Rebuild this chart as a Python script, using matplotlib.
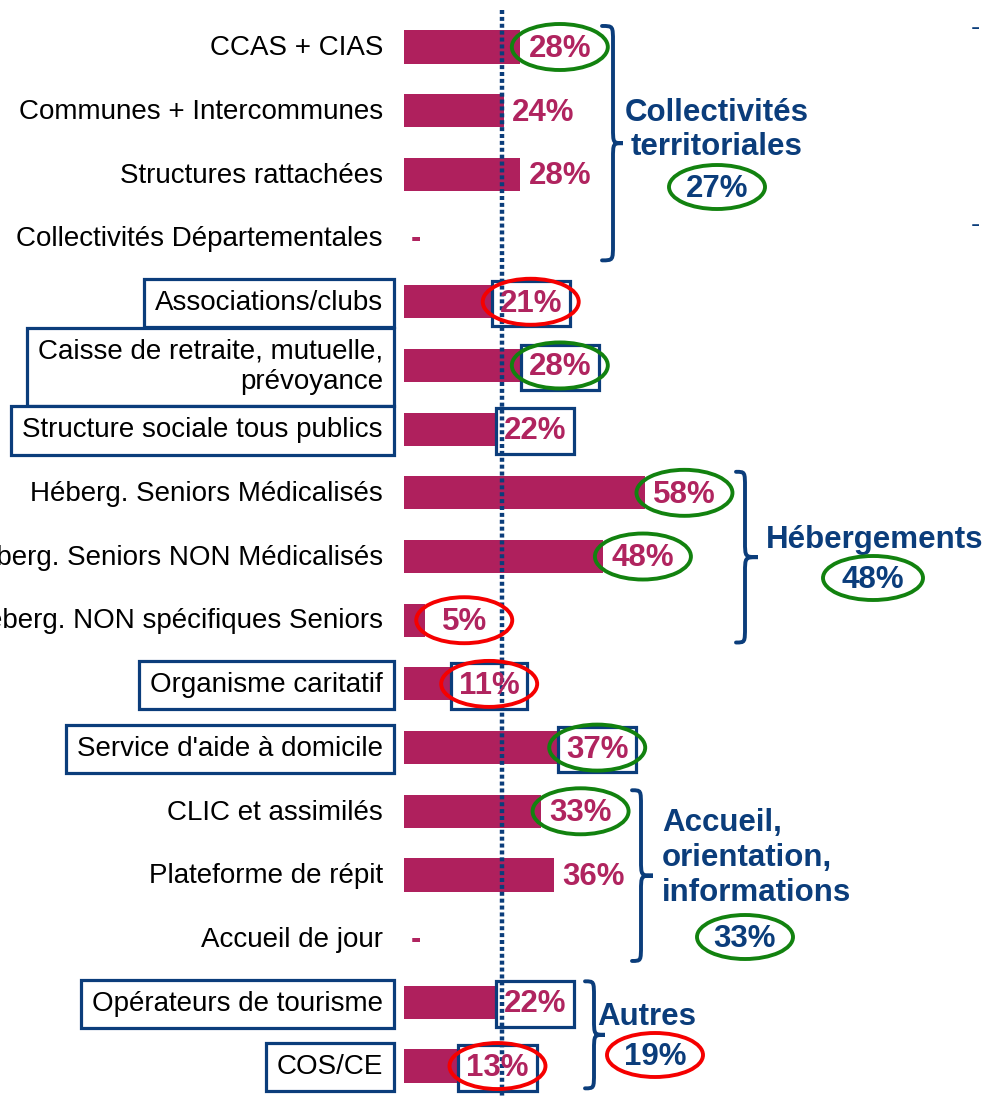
import matplotlib
matplotlib.use("Agg")
import matplotlib.pyplot as plt
from matplotlib.patches import Ellipse, PathPatch
from matplotlib.path import Path

plt.rcParams['font.family'] = ['Liberation Sans', 'DejaVu Sans']

# données
labels = ["CCAS + CIAS", "Communes + Intercommunes", "Structures rattachées",
          "Collectivités Départementales", "Associations/clubs",
          "Caisse de retraite, mutuelle,\nprévoyance", "Structure sociale tous publics",
          "Héberg. Seniors Médicalisés", "Héberg. Seniors NON Médicalisés",
          "Héberg. NON spécifiques Seniors", "Organisme caritatif",
          "Service d'aide à domicile", "CLIC et assimilés", "Plateforme de répit",
          "Accueil de jour", "Opérateurs de tourisme", "COS/CE"]
values = [28, 24, 28, None, 21, 28, 22, 58, 48, 5, 11, 37, 33, 36, None, 22, 13]
boxed = [False, False, False, False, True, True, True, False, False, False,
         True, True, False, False, False, True, True]
rings = ['green', None, None, None, 'red', 'green', None, 'green', 'green', 'red',
         'red', 'green', 'green', None, None, None, 'red']
average = 23.7

group_names = ["Collectivités\nterritoriales", "Hébergements",
               "Accueil,\norientation,\ninformations", "Autres"]
group_values = [27, 48, 33, 19]
group_rings = ['green', 'green', 'green', 'red']
group_rows = [(0, 3), (7, 9), (12, 14), (15, 16)]

BAR = '#AF205D'
VAL = '#B0245F'
NAVY = '#0B3D7B'
RING = {'green': '#12820F', 'red': '#F50000'}

W, H = 986, 1096
X0, XS = 404, 4.155      # pixel de l'origine et pixels par %
Y0, YS = 47, 63.69       # pixel de la 1re ligne et pixels par ligne


def px_x(p):
    return (p - X0) / XS


def px_y(p):
    return (p - Y0) / YS


fig = plt.figure(figsize=(W / 100, H / 100), dpi=100)
ax = fig.add_axes([0, 0, 1, 1])
ax.set_xlim(px_x(0), px_x(W))
ax.set_ylim(px_y(H), px_y(0))
ax.axis('off')

rows = list(range(len(labels)))
bar_vals = [v if v is not None else 0 for v in values]
ax.barh(rows, bar_vals, height=0.52, color=BAR, zorder=2)

# ligne moyenne pointillée
ax.plot([average, average], [px_y(10), px_y(H)], color=NAVY, lw=3.2,
        linestyle=(0, (0.9, 0.65)), dash_capstyle='butt', zorder=3)

for i, (lab, v) in enumerate(zip(labels, values)):
    kw = {}
    if boxed[i]:
        kw['bbox'] = dict(boxstyle='square,pad=0.4', fc='white', ec=NAVY, lw=2.3)
    ax.text(px_x(383), i + 0.02, lab, ha='right', va='center', fontsize=20,
            color='black', zorder=4, **kw)
    if v is None:
        ax.text(px_x(416), i + 0.02, '-', ha='center', va='center', fontsize=22,
                fontweight='bold', color=VAL, zorder=5)
        continue
    cx = v + 9.5
    kw = {}
    if boxed[i]:
        kw['bbox'] = dict(boxstyle='square,pad=0.25', fc='none', ec=NAVY, lw=2.3)
    ax.text(cx, i + 0.03, f'{v}%', ha='center', va='center', fontsize=22.5,
            fontweight='bold', color=VAL, zorder=5, **kw)
    if rings[i]:
        ax.add_patch(Ellipse((cx, i), 96 / XS, 46 / YS, fill=False,
                             ec=RING[rings[i]], lw=2.8, zorder=6))


def brace(stem, tip, hook, r0, r1):
    top = Y0 + (r0 - 0.33) * YS
    bot = Y0 + (r1 + 0.35) * YS
    mid = (top + bot) / 2
    r = 16
    pts = [(hook, top), (stem, top), (stem, top), (stem, top + r),
           (stem, mid - r), (stem, mid), (stem, mid), (tip, mid),
           (stem, mid), (stem, mid), (stem, mid + r),
           (stem, bot - r), (stem, bot), (stem, bot), (hook, bot)]
    codes = [Path.MOVETO, Path.CURVE4, Path.CURVE4, Path.CURVE4,
             Path.LINETO, Path.CURVE4, Path.CURVE4, Path.CURVE4,
             Path.CURVE4, Path.CURVE4, Path.CURVE4,
             Path.LINETO, Path.CURVE4, Path.CURVE4, Path.CURVE4]
    verts = [(px_x(a), px_y(b)) for a, b in pts]
    ax.add_patch(PathPatch(Path(verts, codes), fill=False, ec=NAVY, lw=2.8,
                           capstyle='round', zorder=4))


brace_x = [(613, 623, 602), (745, 758, 736), (641, 653, 632), (594, 605, 585)]
for (s, t, h), (r0, r1) in zip(brace_x, group_rows):
    brace(s, t, h, r0, r1)

# textes des regroupements
name_pos = [(717, 130, 'center'), (875, 540, 'center'), (662, 858, 'left'), (647, 1017, 'center')]
val_pos = [(717, 187), (873, 578), (745, 937), (655, 1055)]
ring_w = [96, 100, 96, 96]
for name, gv, rc, (nx, ny, ha), (vx, vy), rw in zip(group_names, group_values, group_rings,
                                                   name_pos, val_pos, ring_w):
    ax.text(px_x(nx), px_y(ny), name, ha=ha, va='center', fontsize=22.5,
            fontweight='bold', color=NAVY, multialignment=ha, linespacing=1.2)
    ax.text(px_x(vx), px_y(vy) + 0.03, f'{gv}%', ha='center', va='center',
            fontsize=22.5, fontweight='bold', color=NAVY)
    ax.add_patch(Ellipse((px_x(vx), px_y(vy)), rw / XS, 44 / YS, fill=False,
                         ec=RING[rc], lw=2.8, zorder=6))

for yy in (28, 225):
    ax.text(px_x(975), px_y(yy), '-', ha='center', va='center', fontsize=20, color=NAVY)

fig.savefig('out.png', dpi=100)
